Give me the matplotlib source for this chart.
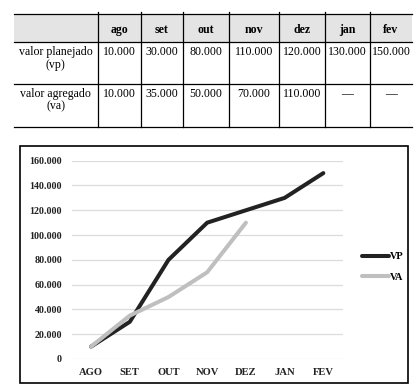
import matplotlib.pyplot as plt
from matplotlib.patches import Rectangle

# dados
meses = ['ago', 'set', 'out', 'nov', 'dez', 'jan', 'fev']
vp = [10000, 30000, 80000, 110000, 120000, 130000, 150000]
va = [10000, 35000, 50000, 70000, 110000]
linhas = ['valor planejado\n(vp)', 'valor agregado\n(va)']
yticks = [0, 20000, 40000, 60000, 80000, 100000, 120000, 140000, 160000]


def fmt(v):
    return f'{v:,}'.replace(',', '.')


plt.rcParams['font.family'] = ['Liberation Serif', 'DejaVu Serif']

W, H = 418, 392
fig = plt.figure(figsize=(W / 100, H / 100), dpi=100)

# camada de fundo em pixels para a tabela e a moldura do gráfico
bg = fig.add_axes([0, 0, 1, 1])
bg.set_xlim(0, W)
bg.set_ylim(H, 0)
bg.axis('off')

# tabela
xs = [14, 97.7, 141, 183, 229, 279, 325, 370, 412]
ys = [13.5, 42.3, 84, 126.7]
bg.add_patch(Rectangle((xs[0], ys[0]), xs[-1] - xs[0], ys[1] - ys[0],
                       facecolor='#e4e4e4', edgecolor='none'))
for y in ys:
    bg.plot([xs[0], xs[-1]], [y, y], color='black', lw=0.9)
for x in xs[1:-1]:
    bg.plot([x, x], [ys[0] - 1.5, ys[-1]], color='black', lw=0.9)

fs = 8.6
cx = [(xs[i] + xs[i + 1]) / 2 for i in range(len(xs) - 1)]
for i, m in enumerate(meses):
    bg.text(cx[i + 1], 30, m, ha='center', va='center', fontsize=fs, fontweight='bold')

bg.text(cx[0], 58.5, linhas[0], ha='center', va='center', fontsize=fs, linespacing=1.05)
bg.text(cx[0], 100.5, linhas[1], ha='center', va='center', fontsize=fs, linespacing=1.05)
for i in range(len(meses)):
    bg.text(cx[i + 1], 52, fmt(vp[i]), ha='center', va='center', fontsize=fs)
    if i < len(va):
        bg.text(cx[i + 1], 94, fmt(va[i]), ha='center', va='center', fontsize=fs)
    else:
        bg.text(cx[i + 1], 94, '—', ha='center', va='center', fontsize=fs)

# moldura do gráfico
bg.add_patch(Rectangle((20, 146), 388, 237, facecolor='none', edgecolor='black', lw=1.2))

# gráfico de linhas
ax = fig.add_axes([71.7 / W, 33 / H, 271 / W, 198.3 / H])
x = range(len(meses))
ax.plot(x, vp, color='#222222', lw=2.9, label='VP', solid_capstyle='round')
ax.plot(range(len(va)), va, color='#bfbfbf', lw=2.9, label='VA', solid_capstyle='round')
ax.set_xlim(-0.5, 6.5)
ax.set_ylim(0, 160000)
ax.set_yticks(yticks)
ax.set_yticklabels([fmt(v) for v in yticks], fontsize=7.2, fontweight='bold', color='#222222')
ax.set_xticks(list(x))
ax.set_xticklabels([m.upper() for m in meses], fontsize=7.6, fontweight='bold', color='#222222')
ax.tick_params(length=0, axis='y', pad=7)
ax.tick_params(length=0, axis='x', pad=6.5)
ax.grid(axis='y', color='#dcdcdc', lw=0.9)
ax.set_axisbelow(True)
for s in ax.spines.values():
    s.set_visible(False)
ax.patch.set_alpha(0)

fig.legend(loc='center left', bbox_to_anchor=(353 / W, 1 - 267 / H), frameon=False,
           handlelength=2.6, handletextpad=0.1, labelspacing=1.1,
           prop={'size': 7.4, 'weight': 'bold'})

fig.savefig('out.png', dpi=100)
